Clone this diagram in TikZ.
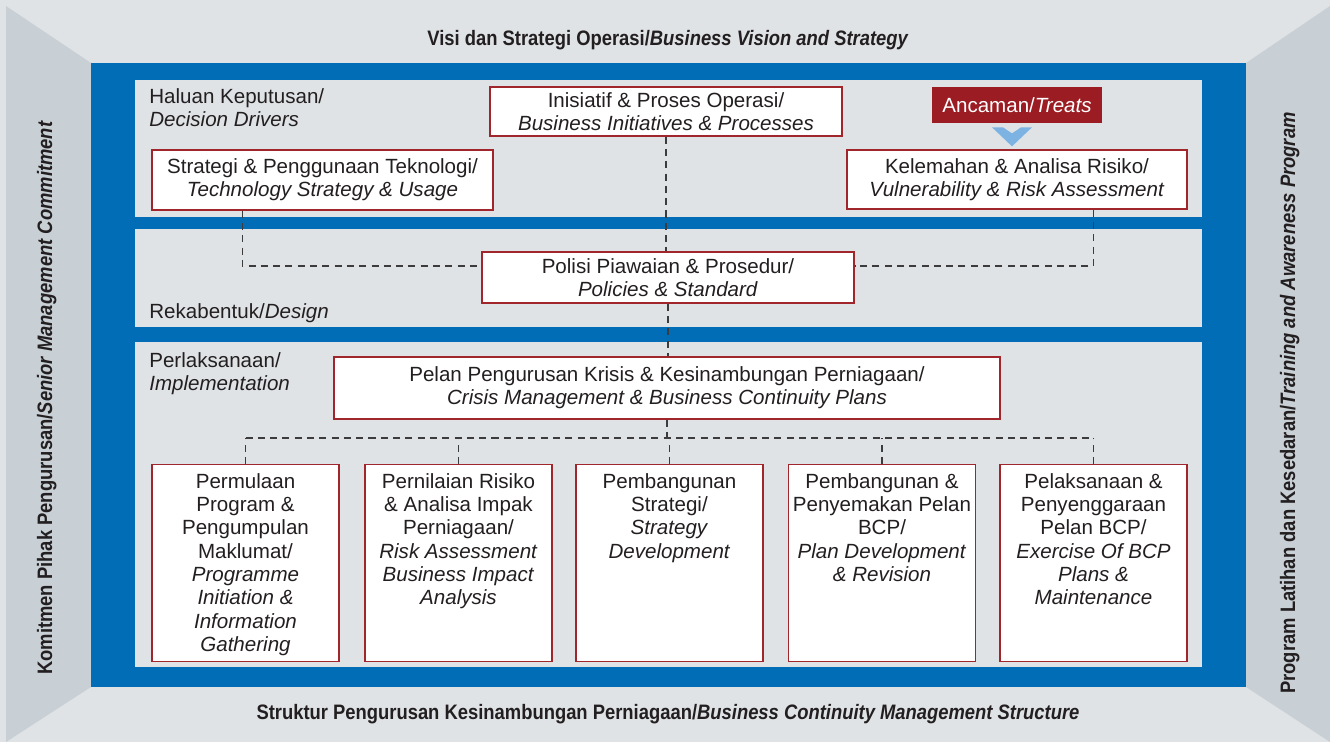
\documentclass[tikz,border=0pt]{standalone}
\usepackage{fontspec}
\setmainfont{Liberation Sans}
\newfontfamily\headfont[FakeStretch=0.88]{Liberation Sans}
\usetikzlibrary{positioning, arrows.meta, calc}
\usepackage{xcolor}
\definecolor{bcmbg}{HTML}{DFE3E6}
\definecolor{bcmside}{HTML}{C8D0D6}
\definecolor{bcmblue}{HTML}{006DB6}
\definecolor{bcmred}{HTML}{A0262C}
\definecolor{bcmthreat}{HTML}{9B1C23}
\definecolor{bcmarrow}{HTML}{7DB3E3}
\definecolor{bcmtext}{HTML}{231F20}
\definecolor{bcmline}{HTML}{3C3C3C}

\begin{document}
\begin{tikzpicture}[x=0.02cm, y=-0.02cm, font=\fontsize{11.7}{13.3}\selectfont, text=bcmtext,
    box/.style={draw=bcmred, fill=white, line width=0.8pt, align=center, inner sep=3pt},
    stage/.style={box, inner xsep=1pt, inner ysep=4pt, anchor=north, minimum width=3.74cm, minimum height=3.94cm},
    tag/.style={align=left, inner sep=0pt},
    head/.style={font=\headfont\fontsize{11.9}{13}\selectfont\bfseries, inner sep=0pt, anchor=base},
    link/.style={bcmline, line width=0.9pt, dash pattern=on 4pt off 3pt}]
    \useasboundingbox (0,0) rectangle (1330,742);
    % frame and panels
    \fill[bcmbg] (0,0) rectangle (1330,742);
    \fill[bcmside] (6,6) -- (91,63) -- (91,687) -- (6,742) -- cycle;
    \fill[bcmside] (1330,6) -- (1246,63) -- (1246,687) -- (1330,742) -- cycle;
    \fill[bcmblue] (91,63) rectangle (1246,687);
    \fill[bcmbg] (135,80) rectangle (1202,217);
    \fill[bcmbg] (135,229) rectangle (1202,327);
    \fill[bcmbg] (135,342) rectangle (1202,667);

    \node[head] (vision) at (668,46) {Visi dan Strategi Operasi/\textit{Business Vision and Strategy}};
    \node[head] (structure) at (668,720) {Struktur Pengurusan Kesinambungan Perniagaan/\textit{Business Continuity Management Structure}};
    \node[head, rotate=90] (commit) at (52,398) {Komitmen Pihak Pengurusan/\textit{Senior Management Commitment}};
    \node[head, rotate=90] (training) at (1295,403) {Program Latihan dan Kesedaran/\textit{Training and Awareness Program}};

    \node[tag, anchor=north west] (decision) at (149,88) {Haluan Keputusan/\\\textit{Decision Drivers}};
    \node[tag, anchor=base west] (design) at (149,319) {Rekabentuk/\textit{Design}};
    \node[tag, anchor=north west] (implement) at (149,352) {Perlaksanaan/\\\textit{Implementation}};

    \node[box, minimum width=7.04cm, minimum height=0.98cm] (initiative) at (666,111.5)
      {Inisiatif \& Proses Operasi/\\\textit{Business Initiatives \& Processes}};
    \node[box, minimum width=6.82cm, minimum height=1.2cm] (tech) at (322.5,180)
      {Strategi \& Penggunaan Teknologi/\\\textit{Technology Strategy \& Usage}};
    \node[box, minimum width=6.8cm, minimum height=1.18cm] (vulner) at (1017,179.5)
      {Kelemahan \& Analisa Risiko/\\\textit{Vulnerability \& Risk Assessment}};
    \node[fill=bcmthreat, text=white, minimum width=3.4cm, minimum height=0.72cm, inner sep=2pt] (threat) at (1017,105)
      {Ancaman/\textit{Treats}};
    \node[box, minimum width=7.44cm, minimum height=1.02cm] (policy) at (668,277.5)
      {Polisi Piawaian \& Prosedur/\\\textit{Policies \& Standard}};
    \node[box, minimum width=13.32cm, minimum height=1.24cm] (crisis) at (667,388)
      {Pelan Pengurusan Krisis \& Kesinambungan Perniagaan/\\\textit{Crisis Management \& Business Continuity Plans}};

    \node[stage] (s1) at (245.5,464) {\parbox[t][3.6cm][t]{3.64cm}{\centering
      Permulaan\\ Program \&\\ Pengumpulan\\ Maklumat/\\ \textit{Programme}\\ \textit{Initiation \&}\\ \textit{Information}\\ \textit{Gathering}}};
    \node[stage] (s2) at (458.5,464) {\parbox[t][3.6cm][t]{3.64cm}{\centering
      Pernilaian Risiko\\ \& Analisa Impak\\ Perniagaan/\\ \textit{Risk Assessment}\\ \textit{Business Impact}\\ \textit{Analysis}}};
    \node[stage] (s3) at (669.5,464) {\parbox[t][3.6cm][t]{3.64cm}{\centering
      Pembangunan\\ Strategi/\\ \textit{Strategy}\\ \textit{Development}}};
    \node[stage] (s4) at (882,464) {\parbox[t][3.6cm][t]{3.64cm}{\centering
      Pembangunan \&\\ Penyemakan Pelan\\ BCP/\\ \textit{Plan Development}\\ \textit{\& Revision}}};
    \node[stage] (s5) at (1093.5,464) {\parbox[t][3.6cm][t]{3.64cm}{\centering
      Pelaksanaan \&\\ Penyenggaraan\\ Pelan BCP/\\ \textit{Exercise Of BCP}\\ \textit{Plans \&}\\ \textit{Maintenance}}};

    \fill[bcmarrow] ($(threat.south)+(-25,4)$) -- ++(11,0) -- ++(9,6) -- ++(9,-6) -- ++(11,0) -- ++(-20,19) -- cycle;

    % dashed links
    \draw[link] (initiative.south) -- (initiative.south |- policy.north);
    \draw[link] ($(tech.south west)+(91,0)$) |- ($(policy.west)+(0,-11.5)$);
    \draw[link] ($(vulner.south east)+(-94,0)$) |- ($(policy.east)+(0,-11.5)$);
    \draw[link] (policy.south) -- (policy.south |- crisis.north);
    \coordinate (bus) at ($(crisis.south)+(0,18.5)$);
    \draw[link] (crisis.south) -- (bus);
    \draw[link] (s1.north |- bus) -- (s5.north |- bus);
    \foreach \i in {1,...,5}
      \draw[link] (s\i.north) -- (s\i.north |- bus);
\end{tikzpicture}
\end{document}
